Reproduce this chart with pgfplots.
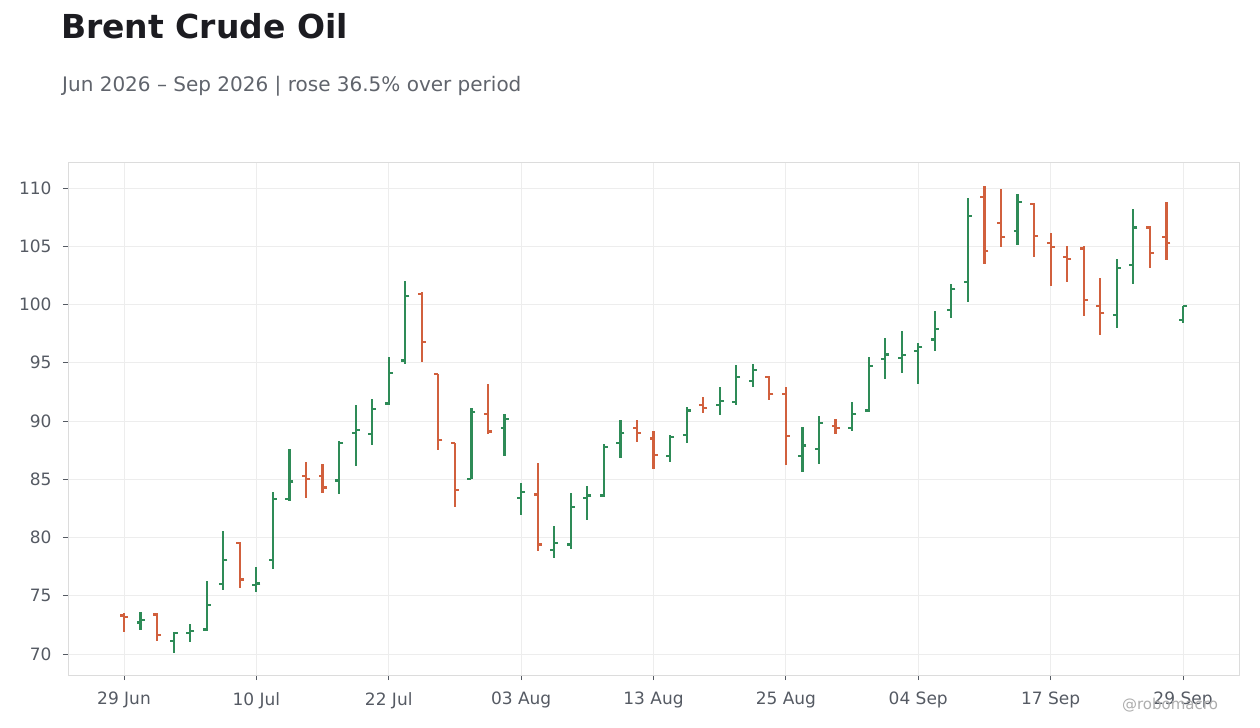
\documentclass[border=0pt]{standalone}
\usepackage{fontspec}
\setmainfont{DejaVu Sans}
\usepackage{pgfplots}
\pgfplotsset{compat=1.18}
\usepackage{pgfplotstable}

\definecolor{upc}{HTML}{2E8B57}
\definecolor{dnc}{HTML}{D1603D}
\definecolor{titlec}{HTML}{1C1C21}
\definecolor{subc}{HTML}{60646C}
\definecolor{tickc}{HTML}{555A63}
\definecolor{framec}{HTML}{DCDCDC}
\definecolor{gridc}{HTML}{EDEDED}

% daily bars: index, open, high, low, close
\pgfplotstableread{
i  o     h     l     c
1  72.7  73.6  72.1  72.9
3  71.1  71.9  70.1  71.8
4  71.8  72.6  71.0  72.0
5  72.1  76.3  72.0  74.2
6  76.0  80.6  75.5  78.1
8  75.95 77.5  75.3  76.05
9  78.1  83.9  77.3  83.3
10 83.3  87.6  83.1  84.8
13 84.9  88.3  83.7  88.1
14 89.0  91.4  86.1  89.2
15 88.9  91.9  87.9  91.0
16 91.5  95.5  91.4  94.1
17 95.2  102.0 94.9  100.7
21 85.0  91.1  85.0  90.8
23 89.4  90.6  87.0  90.2
24 83.4  84.7  81.9  83.9
26 78.9  81.0  78.2  79.5
27 79.4  83.8  79.0  82.6
28 83.4  84.4  81.5  83.6
29 83.6  88.0  83.5  87.8
30 88.1  90.1  86.8  89.0
33 87.0  88.8  86.5  88.6
34 88.8  91.2  88.1  90.9
36 91.4  92.9  90.5  91.7
37 91.6  94.8  91.4  93.8
38 93.4  94.9  92.9  94.4
41 87.0  89.5  85.6  87.9
42 87.6  90.4  86.3  89.8
44 89.4  91.6  89.1  90.6
45 90.9  95.5  90.8  94.7
46 95.3  97.1  93.6  95.7
47 95.4  97.7  94.1  95.65
48 96.0  96.7  93.2  96.35
49 97.0  99.4  96.0  97.9
50 99.5  101.8 98.8  101.3
51 101.9 109.1 100.2 107.6
54 106.3 109.5 105.1 108.8
60 99.1  103.9 98.0  103.1
61 103.4 108.2 101.8 106.6
64 98.7  99.9  98.4  99.85
}\upbars

\pgfplotstableread{
i  o     h     l     c
0  73.3  73.5  71.9  73.2
2  73.4  73.5  71.1  71.6
7  79.5  79.6  75.7  76.4
11 85.3  86.5  83.4  85.0
12 85.3  86.3  83.8  84.3
18 100.9 101.1 95.1  96.8
19 94.0  94.05 87.5  88.4
20 88.1  88.1  82.6  84.1
22 90.6  93.2  88.9  89.1
25 83.7  86.4  78.8  79.4
31 89.4  90.1  88.2  89.0
32 88.5  89.1  85.9  87.1
35 91.4  92.1  90.7  91.1
39 93.8  93.9  91.8  92.3
40 92.3  92.9  86.2  88.7
43 89.6  90.2  88.9  89.4
52 109.2 110.2 103.5 104.6
53 107.0 109.9 104.9 105.8
55 108.6 108.7 104.1 105.9
56 105.3 106.1 101.6 104.9
57 104.1 105.0 101.9 103.9
58 104.8 105.0 99.0  100.4
59 99.9  102.3 97.4  99.3
62 106.6 106.7 103.1 104.4
63 105.8 108.8 103.8 105.3
}\downbars

\pgfplotsset{
  hl/.style={draw=none, mark=none, forget plot,
    error bars/.cd, y dir=both, y explicit, error mark=none,
    error bar style={draw=#1, line width=2.2bp, solid}},
  otick/.style={only marks, mark=-, mark size=2bp, forget plot,
    mark options={xshift=-2bp, line width=2.2bp, draw=#1}},
  ctick/.style={only marks, mark=-, mark size=2bp, forget plot,
    mark options={xshift=2bp, line width=2.2bp, draw=#1}},
}

\begin{document}
\begin{tikzpicture}
\useasboundingbox (0,0) rectangle (1260bp,728bp);

\node[anchor=base west, inner sep=0pt, text=titlec, font=\fontsize{33bp}{38bp}\selectfont\bfseries] at (61bp,689bp) {Brent Crude Oil};
\node[anchor=base west, inner sep=0pt, text=subc, font=\fontsize{20bp}{24bp}\selectfont] at (62bp,636bp) {Jun 2026 – Sep 2026 | rose 36.5\% over period};

\begin{axis}[
  at={(68bp,53bp)}, anchor=south west,
  width=1171bp, height=513bp,
  scale only axis,
  xmin=-3.384, xmax=67.384,
  ymin=68.2, ymax=112.23,
  xtick={0,8,16,24,32,40,48,56,64},
  xticklabels={29 Jun,10 Jul,22 Jul,03 Aug,13 Aug,25 Aug,04 Sep,17 Sep,29 Sep},
  ytick={70,75,...,110},
  /pgf/number format/assume math mode=true,
  tick label style={font=\fontsize{17bp}{20bp}\selectfont, text=tickc},
  xticklabel style={yshift=-8.6bp},
  yticklabel style={xshift=-8bp},
  tick align=outside,
  major tick length=5bp,
  tick style={color=tickc, line width=0.8bp},
  xtick pos=bottom, ytick pos=left,
  grid=major,
  major grid style={color=gridc, line width=0.8bp},
  axis line style={color=framec, line width=0.8bp},
  clip=false,
]
\addplot[hl=upc] table[x=i, y=c, y error plus expr=\thisrow{h}-\thisrow{c}, y error minus expr=\thisrow{c}-\thisrow{l}] {\upbars};
\addplot[otick=upc] table[x=i, y=o] {\upbars};
\addplot[ctick=upc] table[x=i, y=c] {\upbars};

\addplot[hl=dnc] table[x=i, y=c, y error plus expr=\thisrow{h}-\thisrow{c}, y error minus expr=\thisrow{c}-\thisrow{l}] {\downbars};
\addplot[otick=dnc] table[x=i, y=o] {\downbars};
\addplot[ctick=dnc] table[x=i, y=c] {\downbars};
\end{axis}

\node[anchor=base, text=black!32, font=\fontsize{15bp}{18bp}\selectfont, inner sep=0pt] at (1170bp,19bp) {@robomacro};
\end{tikzpicture}
\end{document}
